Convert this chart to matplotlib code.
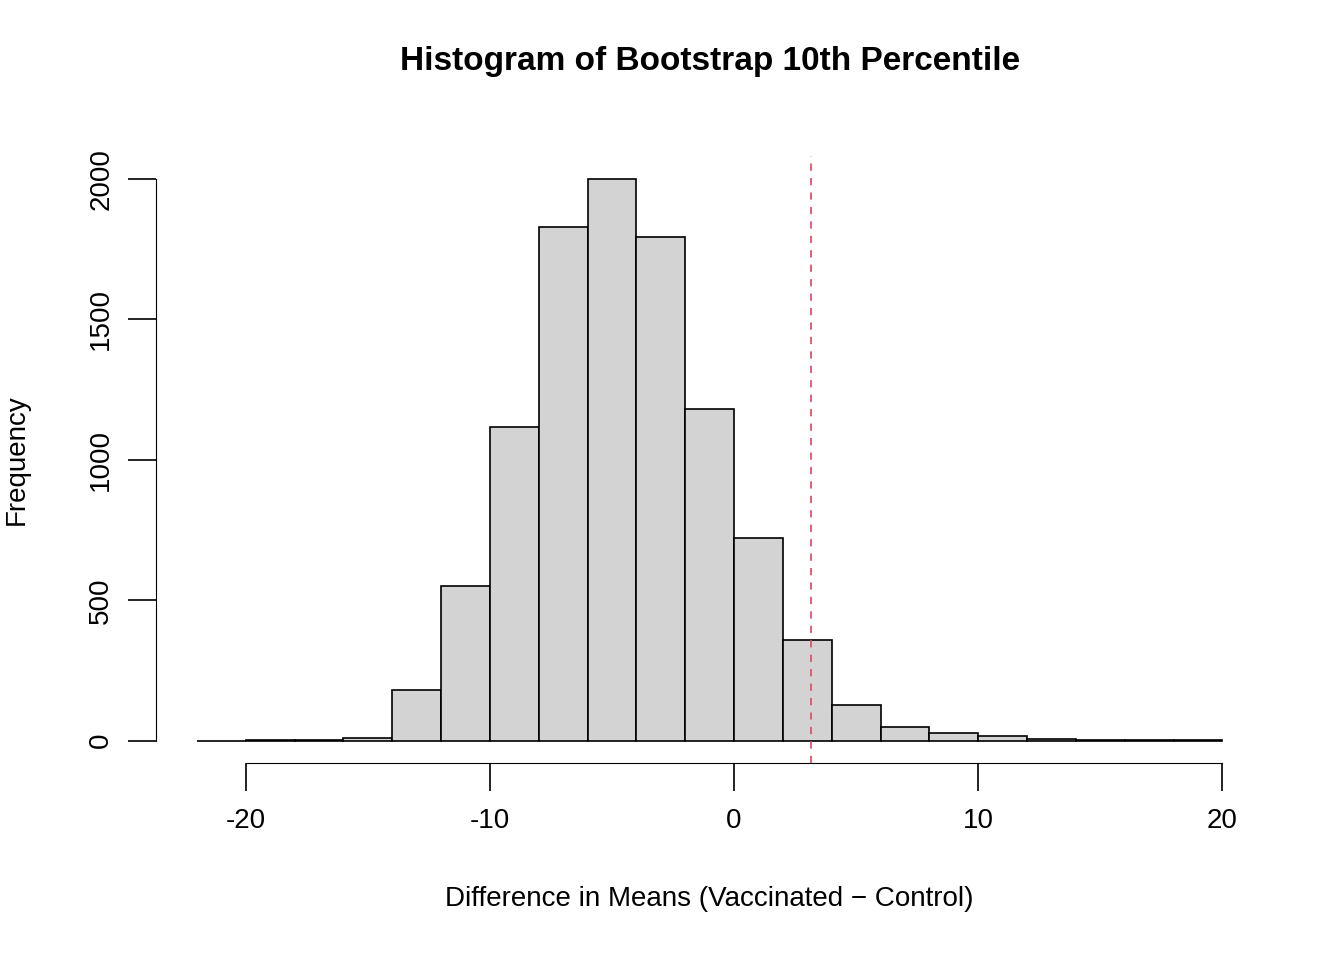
import matplotlib
matplotlib.use("Agg")
import matplotlib.pyplot as plt
import numpy as np

plt.rcParams['font.family'] = ['Liberation Sans', 'DejaVu Sans']
plt.rcParams['axes.unicode_minus'] = False

bin_edges = list(range(-22, 21, 2))
counts = [0, 1, 3, 10, 181, 552, 1117, 1829, 2000, 1793, 1181, 722, 359, 128, 50, 28, 18, 7, 3, 1, 1]
ref_value = 3.16

fig = plt.figure(figsize=(13.44, 9.6), dpi=100)
ax = fig.add_axes([0.116, 0.205, 0.824, 0.632])
left = np.array(bin_edges[:-1])
ax.bar(left, counts, width=2, align='edge', color='#D3D3D3', edgecolor='black', linewidth=1.2)
ax.axvline(ref_value, color='#DF536B', linestyle=(0, (4, 4)), linewidth=1.3)
ax.set_xlim(-23.68, 21.68)
ax.set_ylim(-80, 2080)
for s in ['top', 'right']:
    ax.spines[s].set_visible(False)
ax.spines['left'].set_bounds(0, 2000)
ax.spines['bottom'].set_bounds(-20, 20)
ax.set_xticks([-20, -10, 0, 10, 20])
ax.set_yticks([0, 500, 1000, 1500, 2000])
ax.tick_params(axis='both', labelsize=20, length=20, width=1.2)
ax.tick_params(axis='x', pad=12)
ax.tick_params(axis='y', pad=10)
for lab in ax.get_yticklabels():
    lab.set_rotation(90)
    lab.set_va('center')
ax.set_xlabel('Difference in Means (Vaccinated \u2212 Control)', fontsize=20, labelpad=38)
ax.set_ylabel('Frequency', fontsize=20, labelpad=42)
ax.set_title('Histogram of Bootstrap 10th Percentile', fontsize=24, fontweight='bold', pad=62)
fig.savefig('out.png', dpi=100)
